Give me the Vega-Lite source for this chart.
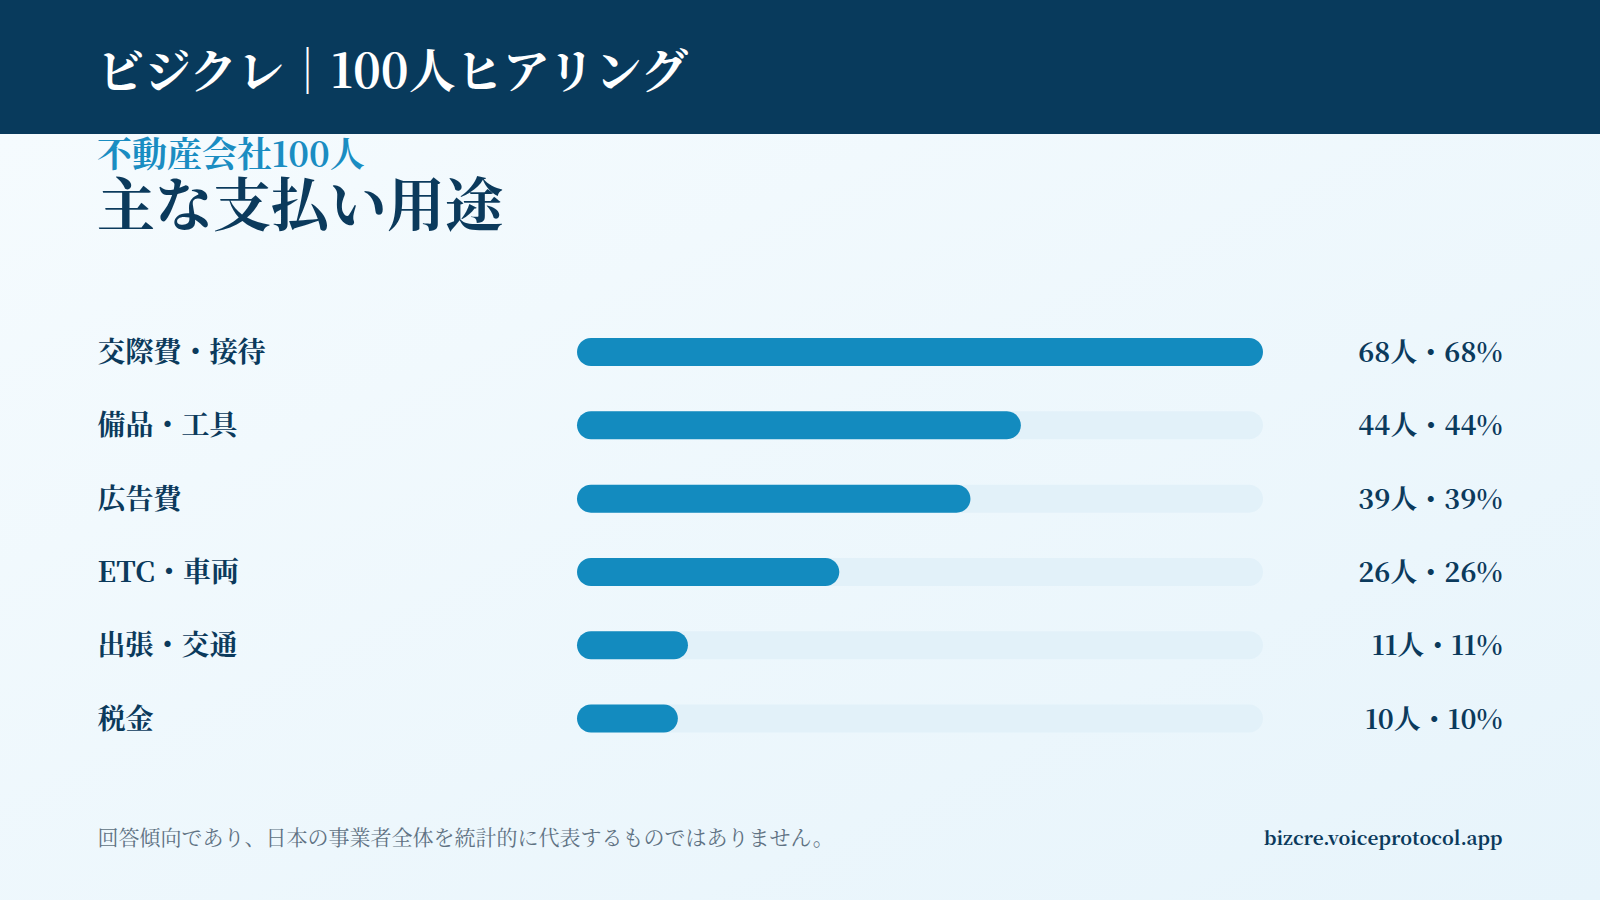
{
  "$schema": "https://vega.github.io/schema/vega-lite/v6.json",
  "padding": 0,
  "spacing": 0,
  "bounds": "flush",
  "background": "#eef7fc",
  "config": {
    "font": "Noto Serif CJK JP",
    "view": {"stroke": null}
  },
  "vconcat": [
    {
      "width": 1600,
      "height": 134,
      "view": {"fill": "#083a5c", "stroke": null},
      "title": {
        "text": "ビジクレ｜100人ヒアリング",
        "orient": "top",
        "anchor": "start",
        "frame": "group",
        "baseline": "alphabetic",
        "dx": 97,
        "offset": -135,
        "color": "#ffffff",
        "fontSize": 47,
        "fontWeight": "bold",
        "font": "Noto Serif CJK JP"
      },
      "data": {"values": []},
      "mark": "text",
      "encoding": {}
    },
    {
      "width": 1600,
      "height": 766,
      "view": {
        "stroke": null,
        "fill": {
          "gradient": "linear",
          "x1": 0, "y1": 0, "x2": 1, "y2": 1,
          "stops": [
            {"offset": 0, "color": "#f5fbfe"},
            {"offset": 1, "color": "#e7f4fb"}
          ]
        }
      },
      "title": {
        "text": "不動産会社100人",
        "subtitle": "主な支払い用途",
        "orient": "top",
        "anchor": "start",
        "frame": "group",
        "baseline": "alphabetic",
        "dx": 97,
        "offset": -132,
        "color": "#1a8dc2",
        "fontSize": 35,
        "fontWeight": "bold",
        "font": "Noto Serif CJK JP",
        "subtitleColor": "#0b3a5c",
        "subtitleFontSize": 58,
        "subtitleFontWeight": "bold",
        "subtitleFont": "Noto Serif CJK JP",
        "subtitlePadding": 24
      },
      "data": {
        "values": [
          {"category": "交際費・接待", "count": 68, "pct": 68},
          {"category": "備品・工具", "count": 44, "pct": 44},
          {"category": "広告費", "count": 39, "pct": 39},
          {"category": "ETC・車両", "count": 26, "pct": 26},
          {"category": "出張・交通", "count": 11, "pct": 11},
          {"category": "税金", "count": 10, "pct": 10}
        ]
      },
      "transform": [
        {"joinaggregate": [{"op": "max", "field": "count", "as": "maxCount"}]},
        {"calculate": "datum.category + '|' + datum.count + '人・' + datum.pct + '%'", "as": "key"}
      ],
      "resolve": {"axis": {"x": "independent", "y": "independent"}},
      "layer": [
        {
          "mark": {"type": "bar", "height": 28, "cornerRadius": 14, "color": "#e2f1f9"},
          "encoding": {
            "y": {
              "field": "key",
              "type": "nominal",
              "sort": null,
              "scale": {"range": [181.4, 621.2], "paddingInner": 0, "paddingOuter": 0},
              "axis": {
                "orient": "left",
                "offset": -97,
                "title": null,
                "domain": false,
                "ticks": false,
                "grid": false,
                "labelAlign": "left",
                "labelBaseline": "middle",
                "labelPadding": 0,
                "labelOffset": 2,
                "labelFontSize": 28,
                "labelFontWeight": "bold",
                "labelColor": "#0b3a5c",
                "labelFont": "Noto Serif CJK JP",
                "labelExpr": "split(datum.label, '|')[0]"
              }
            },
            "x": {
              "field": "maxCount",
              "type": "quantitative",
              "scale": {"range": [577, 1263], "nice": false, "zero": true},
              "axis": {
                "orient": "bottom",
                "labels": false,
                "ticks": false,
                "domain": false,
                "grid": false,
                "title": "回答傾向であり、日本の事業者全体を統計的に代表するものではありません。",
                "titleX": 97,
                "titleY": -62,
                "titleAlign": "left",
                "titleAnchor": "start",
                "titleBaseline": "middle",
                "titleFontSize": 21,
                "titleFontWeight": "normal",
                "titleColor": "#5f7283",
                "titleFont": "Noto Serif CJK JP"
              }
            },
            "x2": {"datum": 0}
          }
        },
        {
          "mark": {"type": "bar", "height": 28, "cornerRadius": 14, "color": "#138bbf"},
          "encoding": {
            "y": {
              "field": "key",
              "type": "nominal",
              "sort": null,
              "axis": {
                "orient": "right",
                "offset": -98,
                "title": null,
                "domain": false,
                "ticks": false,
                "grid": false,
                "labelAlign": "right",
                "labelBaseline": "middle",
                "labelPadding": 0,
                "labelOffset": 2,
                "labelFontSize": 27,
                "labelFontWeight": "bold",
                "labelColor": "#0b3a5c",
                "labelFont": "Noto Serif CJK JP",
                "labelExpr": "split(datum.label, '|')[1]"
              }
            },
            "x": {
              "field": "count",
              "type": "quantitative",
              "axis": {
                "orient": "top",
                "labels": false,
                "ticks": false,
                "domain": false,
                "grid": false,
                "title": "bizcre.voiceprotocol.app",
                "titleX": 1502,
                "titleY": 704,
                "titleAlign": "right",
                "titleAnchor": "end",
                "titleBaseline": "middle",
                "titleFontSize": 19,
                "titleFontWeight": "bold",
                "titleColor": "#0b3a5c",
                "titleFont": "Noto Serif CJK JP"
              }
            },
            "x2": {"datum": 0}
          }
        }
      ]
    }
  ]
}
